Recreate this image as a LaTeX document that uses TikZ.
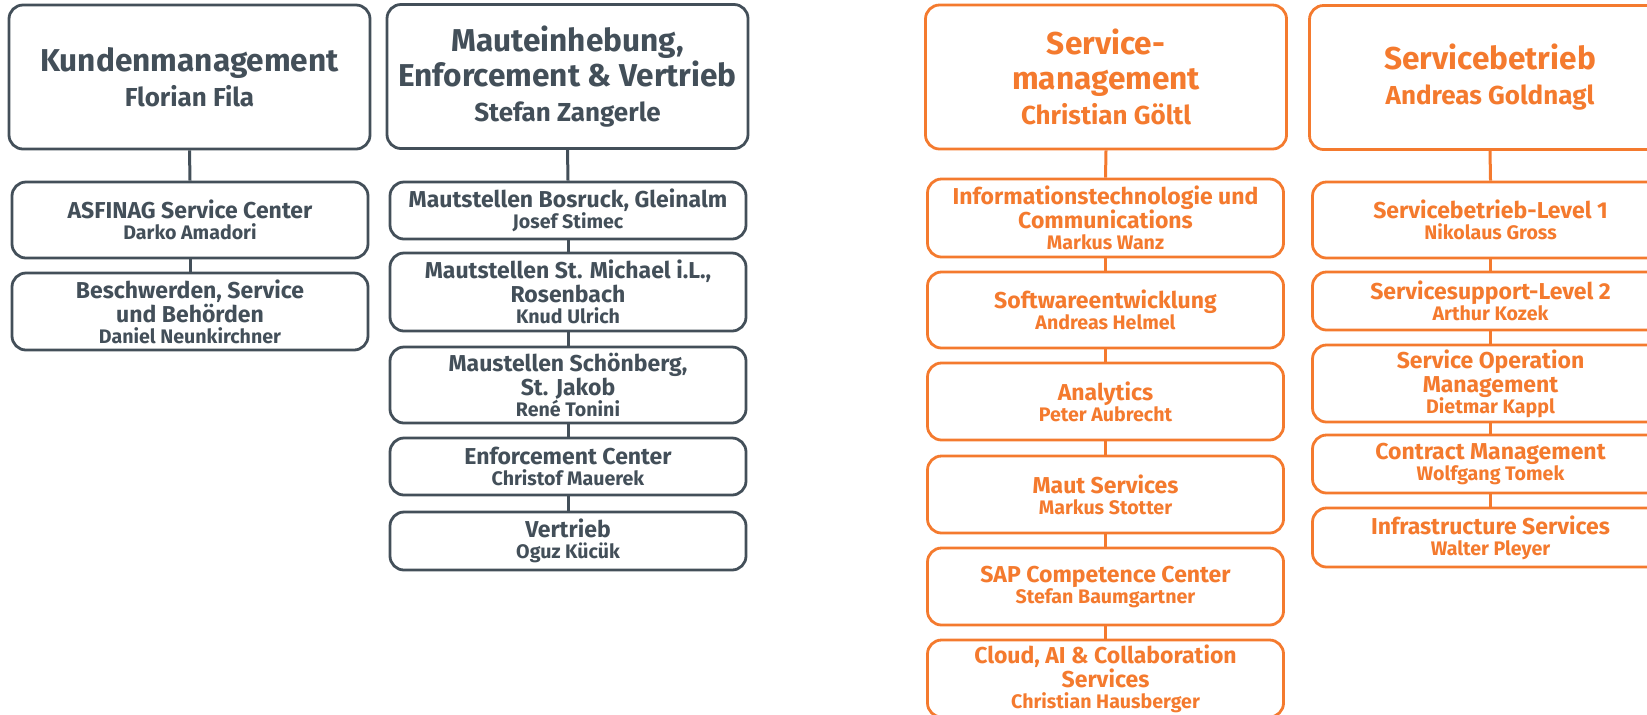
\documentclass[tikz,border=0pt]{standalone}
\usepackage{fontspec}
\setmainfont{Fira Sans}
\definecolor{slate}{HTML}{434F59}
\definecolor{asforange}{HTML}{F47A2E}
\newcommand{\who}[1]{{\fontsize{9.8}{10}\selectfont #1}}
\newcommand{\chief}[1]{{\fontsize{13}{17.5}\selectfont #1}}
\begin{document}
\begin{tikzpicture}[x=0.5pt,y=-0.5pt,
    box/.style={draw, rounded corners=7pt, line width=1.4pt, align=center, inner sep=0pt},
    grey/.style={box, draw=slate, text=slate},
    orng/.style={box, draw=asforange, text=asforange},
    head/.style={minimum width=361*0.5pt, minimum height=144*0.5pt, font=\bfseries\fontsize{15.8}{17.5}\selectfont},
    unit/.style={minimum width=356*0.5pt, minimum height=#1*0.5pt, font=\bfseries\fontsize{11.5}{12}\selectfont},
    link/.style={line width=1.5pt}]
  \clip (0,0) rectangle (1647,714);
  \useasboundingbox (0,0) rectangle (1647,714);
  % Kundenmanagement
  \node[grey, head] (km) at (189.5,77) {Kundenmanagement\\\chief{Florian Fila}};
  \node[grey, unit=76] (asc) at (190,220) {ASFINAG Service Center\\[-1.5pt]\who{Darko Amadori}};
  \node[grey, unit=77] (bsb) at (190,311.5) {Beschwerden, Service\\und Behörden\\[-1.5pt]\who{Daniel Neunkirchner}};
  % Mauteinhebung
  \node[grey, head] (me) at (567.5,76.5) {Mauteinhebung,\\Enforcement \& Vertrieb\\\chief{Stefan Zangerle}};
  \node[grey, unit=57] (bos) at (568,210.5) {Mautstellen Bosruck, Gleinalm\\[-1.5pt]\who{Josef Stimec}};
  \node[grey, unit=78] (mich) at (568,292) {Mautstellen St. Michael i.L.,\\Rosenbach\\[-1.5pt]\who{Knud Ulrich}};
  \node[grey, unit=76] (schoen) at (568,385) {Maustellen Schönberg,\\St. Jakob\\[-1.5pt]\who{René Tonini}};
  \node[grey, unit=57] (enf) at (568,466.5) {Enforcement Center\\[-1.5pt]\who{Christof Mauerek}};
  \node[grey, unit=58] (vert) at (568,541) {Vertrieb\\[-1.5pt]\who{Oguz Kücük}};
  % Servicemanagement
  \node[orng, head] (sm) at (1106,77) {Service-\\management\\\chief{Christian Göltl}};
  \node[orng, unit=78] (it) at (1105.5,218) {Informationstechnologie und\\Communications\\[-1.5pt]\who{Markus Wanz}};
  \node[orng, unit=76] (sw) at (1105.5,310) {Softwareentwicklung\\[-1.5pt]\who{Andreas Helmel}};
  \node[orng, unit=77] (ana) at (1105.5,401.5) {Analytics\\[-1.5pt]\who{Peter Aubrecht}};
  \node[orng, unit=77] (maut) at (1105.5,494.5) {Maut Services\\[-1.5pt]\who{Markus Stotter}};
  \node[orng, unit=77] (sap) at (1105.5,586.5) {SAP Competence Center\\[-1.5pt]\who{Stefan Baumgartner}};
  \node[orng, unit=77] (cloud) at (1105.5,678.5) {Cloud, AI \& Collaboration\\Services\\[-1.5pt]\who{Christian Hausberger}};
  % Servicebetrieb
  \node[orng, head] (sb) at (1490,77.5) {Servicebetrieb\\\chief{Andreas Goldnagl}};
  \node[orng, unit=76] (lvl1) at (1490.5,220) {Servicebetrieb-Level 1\\[-1.5pt]\who{Nikolaus Gross}};
  \node[orng, unit=58] (lvl2) at (1490.5,301) {Servicesupport-Level 2\\[-1.5pt]\who{Arthur Kozek}};
  \node[orng, unit=77] (som) at (1490.5,383.5) {Service Operation\\Management\\[-1.5pt]\who{Dietmar Kappl}};
  \node[orng, unit=58] (cm) at (1490.5,464) {Contract Management\\[-1.5pt]\who{Wolfgang Tomek}};
  \node[orng, unit=59] (infra) at (1490.5,537.5) {Infrastructure Services\\[-1.5pt]\who{Walter Pleyer}};
  % Linien
  \foreach \a/\b in {km/asc, asc/bsb, me/bos, bos/mich, mich/schoen, schoen/enf, enf/vert}
    \draw[link, slate] (\a.south) -- (\b.north);
  \foreach \a/\b in {sm/it, it/sw, sw/ana, ana/maut, maut/sap, sap/cloud, sb/lvl1, lvl1/lvl2, lvl2/som, som/cm, cm/infra}
    \draw[link, asforange] (\a.south) -- (\b.north);
\end{tikzpicture}
\end{document}
